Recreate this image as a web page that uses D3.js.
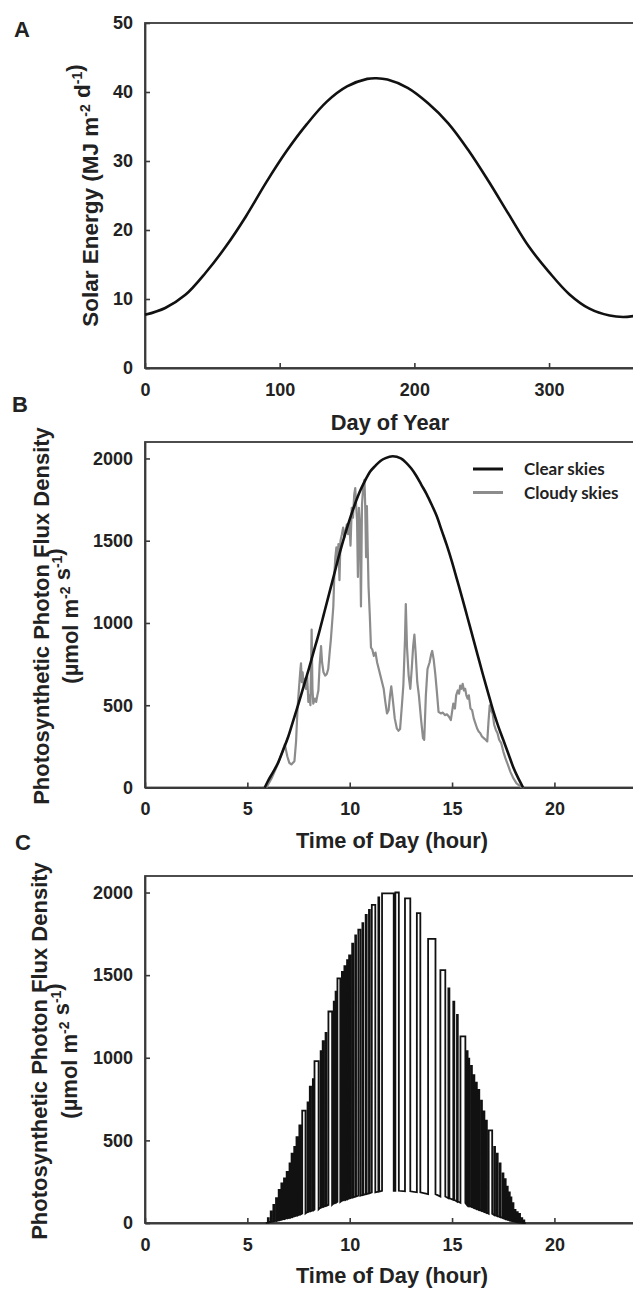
<!DOCTYPE html>
<html><head><meta charset="utf-8">
<script src="https://cdn.jsdelivr.net/npm/d3@7/dist/d3.min.js"></script>
<style>
body{margin:0;background:#fff}
svg{display:block}
text{font-family:"Liberation Sans",Arial,sans-serif;font-weight:bold;fill:#222}
</style>
</head><body>
<svg id="chart" width="633" height="1292"></svg>
<script>
// ---------- Panel A: daily solar energy ----------
const solarDay    = [0, 15, 30, 45, 60, 75, 90, 105, 120, 135, 150, 165, 172, 180, 195, 210, 225, 240, 255, 270, 285, 300, 315, 330, 345, 355, 365];
const solarEnergy = [7.7, 8.7, 10.6, 13.8, 17.6, 22.0, 26.9, 31.4, 35.3, 38.6, 40.8, 41.9, 42.0, 41.8, 40.6, 38.4, 35.5, 31.6, 27.1, 22.3, 17.6, 13.9, 10.7, 8.6, 7.6, 7.4, 7.6];
const dayTicks = [0, 100, 200, 300];
const energyTicks = [0, 10, 20, 30, 40, 50];

// ---------- Panel B: clear vs cloudy skies ----------
const clearHour = [5.85, 6.0, 6.25, 6.5, 6.75, 7.0, 7.25, 7.5, 7.75, 8.0, 8.25, 8.5, 8.75, 9.0, 9.25, 9.5, 9.75, 10.0, 10.25, 10.5, 10.75, 11.0, 11.25, 11.5, 11.75, 12.1, 12.5, 12.75, 13.0, 13.25, 13.5, 13.75, 14.0, 14.25, 14.5, 14.75, 15.0, 15.25, 15.5, 15.75, 16.0, 16.25, 16.5, 16.75, 17.0, 17.25, 17.5, 17.75, 18.0, 18.25, 18.47];
const clearPPFD = [0, 38, 92, 150, 228, 310, 410, 510, 615, 720, 830, 940, 1060, 1180, 1300, 1420, 1530, 1630, 1720, 1800, 1865, 1920, 1955, 1985, 2002, 2013, 2000, 1975, 1940, 1895, 1840, 1785, 1720, 1650, 1560, 1470, 1370, 1260, 1150, 1035, 920, 805, 690, 580, 470, 375, 290, 205, 120, 52, 0];

const cloudyHour = [5.93, 6.2, 6.5, 6.7, 6.83, 6.95, 7.05, 7.15, 7.3, 7.38, 7.45, 7.52, 7.58, 7.62, 7.66, 7.7, 7.75, 7.8, 7.86, 7.92, 7.98, 8.03, 8.08, 8.14, 8.18, 8.22, 8.3, 8.36, 8.42, 8.47, 8.53, 8.6, 8.65, 8.72, 8.8, 8.88, 8.95, 9.02, 9.08, 9.14, 9.2, 9.25, 9.3, 9.35, 9.4, 9.45, 9.5, 9.55, 9.62, 9.68, 9.74, 9.8, 9.86, 9.92, 9.98, 10.04, 10.1, 10.16, 10.22, 10.27, 10.32, 10.36, 10.4, 10.45, 10.5, 10.55, 10.6, 10.66, 10.72, 10.76, 10.8, 10.84, 10.88, 10.92, 10.98, 11.04, 11.1, 11.18, 11.26, 11.34, 11.42, 11.5, 11.58, 11.66, 11.74, 11.82, 11.9, 11.97, 12.03, 12.1, 12.2, 12.3, 12.38, 12.46, 12.55, 12.62, 12.7, 12.74, 12.8, 12.88, 12.96, 13.03, 13.1, 13.16, 13.22, 13.3, 13.38, 13.48, 13.58, 13.64, 13.72, 13.8, 13.9, 13.98, 14.03, 14.1, 14.18, 14.26, 14.34, 14.45, 14.55, 14.65, 14.75, 14.85, 14.94, 15.0, 15.06, 15.14, 15.2, 15.28, 15.34, 15.4, 15.46, 15.52, 15.58, 15.64, 15.7, 15.76, 15.82, 15.9, 15.98, 16.06, 16.14, 16.22, 16.3, 16.38, 16.46, 16.55, 16.64, 16.72, 16.78, 16.84, 16.9, 16.98, 17.06, 17.14, 17.22, 17.3, 17.4, 17.5, 17.6, 17.72, 17.85, 18.0, 18.15, 18.35, 18.5];
const cloudyPPFD = [0, 60, 145, 215, 262, 190, 150, 140, 160, 280, 480, 600, 700, 755, 640, 700, 620, 660, 600, 680, 520, 560, 500, 960, 600, 510, 540, 520, 560, 590, 740, 860, 760, 700, 680, 690, 720, 820, 900, 1000, 1100, 1300, 1400, 1460, 1360, 1480, 1260, 1500, 1540, 1580, 1520, 1560, 1600, 1540, 1620, 1470, 1700, 1640, 1780, 1820, 1700, 1620, 1280, 1700, 1600, 1100, 1720, 1830, 1870, 1700, 1400, 1710, 1450, 1220, 1050, 850, 840, 800, 820, 760, 720, 680, 640, 600, 520, 450, 470, 560, 615, 540, 420, 360, 345, 355, 500, 620, 900, 1115, 850, 680, 600, 720, 860, 930, 820, 640, 560, 420, 300, 290, 560, 720, 760, 810, 830, 780, 690, 580, 460, 450, 455, 440, 445, 430, 410, 460, 510, 480, 560, 590, 570, 620, 600, 630, 590, 600, 560, 540, 560, 480, 470, 420, 390, 360, 340, 330, 310, 300, 290, 280, 400, 500, 470, 450, 380, 350, 330, 290, 270, 220, 180, 140, 95, 55, 25, 5, 0];

const hourTicks = [0, 5, 10, 15, 20];
const ppfdTicks = [0, 500, 1000, 1500, 2000];
const legendLabels = ["Clear skies", "Cloudy skies"];
const legendColors = ["#111", "#8c8c8c"];

// ---------- Panel C: sunflecks (on/off hour, PPFD in fleck, PPFD in shade) ----------
const fleckStart = [6.00, 6.14, 6.27, 6.40, 6.53, 6.66, 6.79, 6.92, 7.06, 7.16, 7.29, 7.40, 7.54, 7.68, 7.94, 8.05, 8.20, 8.28, 8.58, 8.68, 8.82, 8.96, 9.22, 9.31, 9.40, 9.62, 9.74, 9.87, 9.97, 10.12, 10.27, 10.42, 10.62, 10.78, 10.94, 11.08, 11.40, 11.58, 12.23, 12.70, 13.28, 13.83, 14.43, 14.82, 15.06, 15.24, 15.41, 15.72, 15.80, 15.93, 16.05, 16.17, 16.29, 16.42, 16.54, 16.66, 16.79, 17.06, 17.19, 17.33, 17.47, 17.58, 17.68, 17.78, 17.86, 17.96, 18.06, 18.17, 18.28, 18.40, 18.50];
const fleckEnd   = [6.04, 6.18, 6.31, 6.45, 6.58, 6.71, 6.84, 6.98, 7.11, 7.22, 7.34, 7.46, 7.60, 7.84, 7.99, 8.11, 8.24, 8.48, 8.62, 8.73, 8.86, 9.14, 9.26, 9.35, 9.54, 9.66, 9.80, 9.91, 10.03, 10.17, 10.31, 10.52, 10.66, 10.83, 10.98, 11.25, 11.44, 12.15, 12.40, 12.96, 13.45, 14.19, 14.67, 14.87, 15.11, 15.28, 15.65, 15.76, 15.84, 15.97, 16.09, 16.21, 16.33, 16.46, 16.58, 16.70, 16.96, 17.10, 17.23, 17.37, 17.51, 17.62, 17.72, 17.82, 17.90, 18.00, 18.10, 18.21, 18.32, 18.43, 18.53];
const fleckTop   = [30, 70, 110, 150, 200, 240, 270, 310, 360, 420, 460, 520, 590, 680, 730, 825, 870, 980, 1040, 1100, 1150, 1280, 1340, 1400, 1480, 1520, 1555, 1590, 1620, 1690, 1740, 1775, 1815, 1865, 1895, 1925, 1970, 1995, 2000, 1965, 1875, 1720, 1530, 1420, 1340, 1260, 1130, 1040, 995, 950, 895, 850, 805, 740, 675, 620, 560, 460, 420, 360, 300, 265, 220, 185, 155, 120, 80, 65, 55, 30, 15];
const shadeLow   = [3, 7, 10, 13, 17, 21, 25, 29, 33, 37, 42, 46, 52, 58, 68, 72, 78, 82, 94, 98, 104, 110, 120, 124, 128, 136, 140, 145, 150, 155, 160, 165, 170, 175, 180, 185, 190, 195, 195, 192, 186, 175, 160, 150, 140, 130, 122, 110, 104, 98, 92, 86, 80, 74, 68, 62, 56, 48, 42, 36, 30, 25, 21, 17, 14, 11, 8, 5, 3, 1, 0];

// ---------- drawing ----------
const svg = d3.select("#chart");
const fmt = d3.format("d");

function panel(cfg) {
  const g = svg.append("g");
  const x = d3.scaleLinear().domain(cfg.xDomain).range([cfg.left, cfg.right]);
  const y = d3.scaleLinear().domain(cfg.yDomain).range([cfg.bottom, cfg.top]);
  g.append("rect").attr("x", cfg.left).attr("y", cfg.top)
    .attr("width", cfg.right - cfg.left).attr("height", cfg.bottom - cfg.top)
    .attr("fill", "none").attr("stroke", "#3a3a3a").attr("stroke-width", 1.8);
  const xa = g.append("g").attr("transform", `translate(0,${cfg.bottom})`)
    .call(d3.axisBottom(x).tickValues(cfg.xTicks).tickFormat(fmt).tickSizeInner(-5).tickSizeOuter(0).tickPadding(15));
  const ya = g.append("g").attr("transform", `translate(${cfg.left},0)`)
    .call(d3.axisLeft(y).tickValues(cfg.yTicks).tickFormat(fmt).tickSizeInner(-5).tickSizeOuter(0).tickPadding(12));
  [xa, ya].forEach(a => {
    a.attr("font-family", null).attr("font-size", null).attr("color", "#3a3a3a");
    a.select(".domain").attr("stroke-width", 1.8);
    a.selectAll(".tick line").attr("stroke-width", 1.6);
    a.selectAll(".tick text").style("font-size", "18px");
  });
  return {g, x, y};
}

// Panel A
const A = panel({xDomain:[0,365], yDomain:[0,50], left:145, right:636.6, top:23, bottom:368, xTicks:dayTicks, yTicks:energyTicks});
A.g.append("path")
  .datum(solarDay.map((d,i)=>[d, solarEnergy[i]]))
  .attr("fill","none").attr("stroke","#111").attr("stroke-width",2.6)
  .attr("d", d3.line().x(d=>A.x(d[0])).y(d=>A.y(d[1])).curve(d3.curveCatmullRom.alpha(0.5)));

// Panel B
const B = panel({xDomain:[0,24], yDomain:[0,2100], left:145, right:636.3, top:442, bottom:787.5, xTicks:hourTicks, yTicks:ppfdTicks});
B.g.append("path")
  .datum(cloudyHour.map((d,i)=>[d, cloudyPPFD[i]]))
  .attr("fill","none").attr("stroke", legendColors[1]).attr("stroke-width",2.2).attr("stroke-linejoin","round")
  .attr("d", d3.line().x(d=>B.x(d[0])).y(d=>B.y(d[1])));
B.g.append("path")
  .datum(clearHour.map((d,i)=>[d, clearPPFD[i]]))
  .attr("fill","none").attr("stroke", legendColors[0]).attr("stroke-width",2.6)
  .attr("d", d3.line().x(d=>B.x(d[0])).y(d=>B.y(d[1])).curve(d3.curveMonotoneX));
const leg = B.g.append("g");
legendLabels.forEach((lab, i) => {
  const ly = 469 + i * 23.5;
  leg.append("line").attr("x1",473).attr("x2",503).attr("y1",ly).attr("y2",ly)
    .attr("stroke", legendColors[i]).attr("stroke-width", 3);
  leg.append("text").attr("x",524).attr("y",ly+6)
    .style("font-family","Lato, 'Open Sans', sans-serif").style("font-size","17px").style("font-weight","bold")
    .text(lab);
});

// Panel C
const C = panel({xDomain:[0,24], yDomain:[0,2100], left:145, right:636.3, top:876, bottom:1223, xTicks:hourTicks, yTicks:ppfdTicks});
const fleckPts = [[5.9, 0]];
fleckStart.forEach((s,i)=>{
  fleckPts.push([s, shadeLow[i]], [s, fleckTop[i]], [fleckEnd[i], fleckTop[i]], [fleckEnd[i], shadeLow[i]]);
});
fleckPts.push([18.6, 0]);
C.g.append("path").datum(fleckPts)
  .attr("fill","none").attr("stroke","#111").attr("stroke-width",1.8).attr("stroke-linejoin","miter")
  .attr("d", d3.line().x(d=>C.x(d[0])).y(d=>C.y(d[1])));

// ---------- titles ----------
function sup(t, parts) {
  parts.forEach(p => {
    if (p.sup) {
      t.append("tspan").attr("dy", -8).style("font-size","14px").text(p.sup);
      t.append("tspan").attr("dy", 8).text("");
    } else t.append("tspan").text(p.t);
  });
}
const ta = svg.append("text").attr("transform","translate(98,195.5) rotate(-90)")
  .attr("text-anchor","middle").style("font-size","22.5px");
sup(ta, [{t:"Solar Energy (MJ m"},{sup:"-2"},{t:" d"},{sup:"-1"},{t:")"}]);

[{cy:616, l1:49, l2:78}, {cy:1051, l1:47, l2:77}].forEach(p => {
  svg.append("text").attr("transform",`translate(${p.l1},${p.cy}) rotate(-90)`)
    .attr("text-anchor","middle").style("font-size","22px").text("Photosynthetic Photon Flux Density");
  const t2 = svg.append("text").attr("transform",`translate(${p.l2},${p.cy}) rotate(-90)`)
    .attr("text-anchor","middle").style("font-size","22px");
  sup(t2, [{t:"(\u00b5mol m"},{sup:"-2"},{t:" s"},{sup:"-1"},{t:")"}]);
});

svg.append("text").attr("x",390).attr("y",430).attr("text-anchor","middle").style("font-size","21.8px").text("Day of Year");
svg.append("text").attr("x",392).attr("y",848).attr("text-anchor","middle").style("font-size","21.8px").text("Time of Day (hour)");
svg.append("text").attr("x",392).attr("y",1283).attr("text-anchor","middle").style("font-size","21.8px").text("Time of Day (hour)");

[["A",14,37],["B",12,412],["C",15,850]].forEach(([s,x,y]) =>
  svg.append("text").attr("x",x).attr("y",y).style("font-size","22px").text(s));
</script>
</body></html>
